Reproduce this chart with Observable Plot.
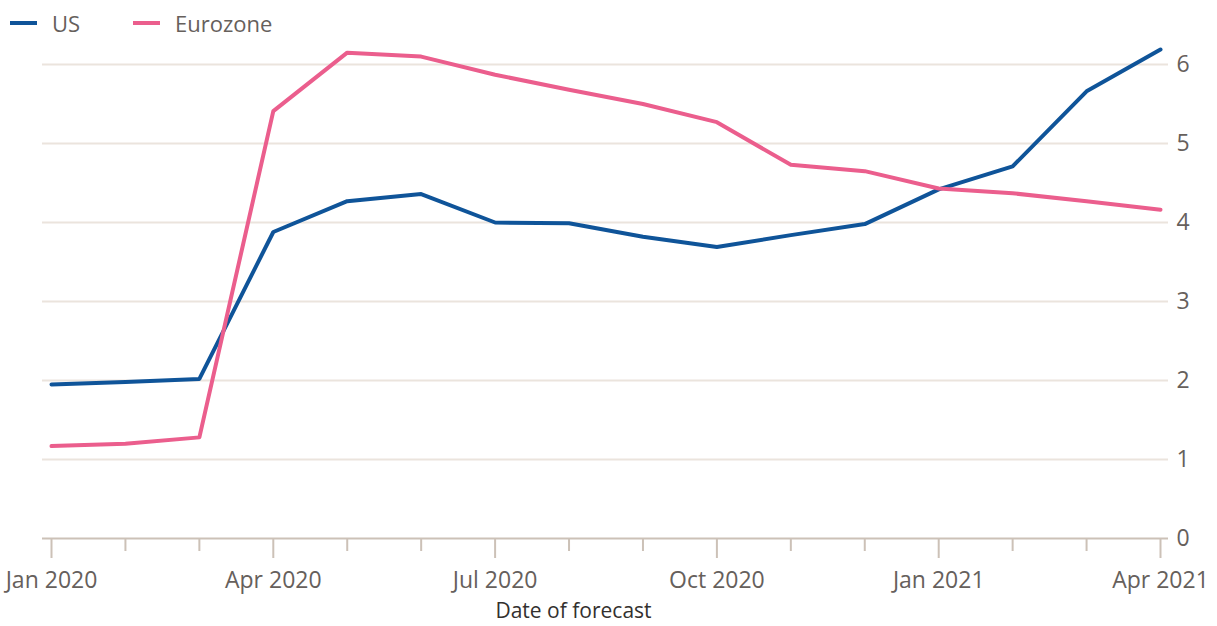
<!DOCTYPE html>
<html><head><meta charset="utf-8">
<script src="https://cdn.jsdelivr.net/npm/d3@7"></script>
<script src="https://cdn.jsdelivr.net/npm/@observablehq/plot@0.6"></script>
<style>
body{margin:0;background:#fff;font-family:"Open Sans",sans-serif;color:#66605c}
#legend{position:relative;height:34px;font-size:22px}
.item{position:absolute;top:0;height:46px;display:flex;align-items:center}
.sw{display:inline-block;width:27px;height:4px;margin-right:15px}
#chart svg{display:block}
</style></head><body>
<div id="legend"></div>
<div id="chart"></div>
<script>
const months = ["Jan 2020","Feb 2020","Mar 2020","Apr 2020","May 2020","Jun 2020","Jul 2020","Aug 2020","Sep 2020","Oct 2020","Nov 2020","Dec 2020","Jan 2021","Feb 2021","Mar 2021","Apr 2021"];
const us = [1.95,1.98,2.02,3.88,4.27,4.36,4.00,3.99,3.82,3.69,3.84,3.98,4.42,4.71,5.66,6.19];
const eurozone = [1.17,1.20,1.28,5.41,6.15,6.10,5.87,5.68,5.50,5.27,4.73,4.65,4.43,4.37,4.27,4.16];
const seriesNames = ["US","Eurozone"];
const seriesColors = ["#0f5499","#eb5e8d"];
const yTicks = [0,1,2,3,4,5,6];
const gridValues = [1,2,3,4,5,6];
const axisTitle = "Date of forecast";

const data = months.flatMap((m,i)=>[
  {i, month:m, series:"US", value:us[i]},
  {i, month:m, series:"Eurozone", value:eurozone[i]}
]);
const idx = months.map((m,i)=>i);
const major = idx.filter(i=>i%3===0);
const minor = idx.filter(i=>i%3!==0);

// legend
const leg = document.getElementById("legend");
const legendX = [10,133];
seriesNames.forEach((s,k)=>{
  const d = document.createElement("div");
  d.className="item"; d.style.left=legendX[k]+"px";
  d.innerHTML=`<span class="sw" style="background:${seriesColors[k]}"></span><span>${s}</span>`;
  leg.appendChild(d);
});

const chart = Plot.plot({
  width:1217, height:592,
  marginLeft:42, marginRight:49, marginTop:30, marginBottom:88,
  style:{fontFamily:'"Open Sans",sans-serif', fontSize:"22px", color:"#66605c", background:"transparent"},
  x:{type:"linear", domain:[0,15], insetLeft:9, insetRight:8},
  y:{domain:[0,6]},
  color:{domain:seriesNames, range:seriesColors},
  marks:[
    Plot.ruleY(gridValues,{stroke:"#ebe4dd", strokeWidth:2}),
    Plot.axisX(minor,{tickSize:13, stroke:"#ccc1b7", strokeWidth:2, tickFormat:()=>"", label:null}),
    Plot.axisX(major,{tickSize:20, tickPadding:13, stroke:"#ccc1b7", strokeWidth:2, fill:"#66605c", fontSize:23, tickFormat:i=>months[i], label:null}),
    Plot.ruleY([0],{stroke:"#ccc1b7", strokeWidth:2}),
    Plot.axisY(yTicks,{anchor:"right", tickSize:0, tickPadding:8, fill:"#66605c", fontSize:23, tickFormat:d=>String(d), label:null}),
    Plot.lineY(data,{x:"i", y:"value", stroke:"series", strokeWidth:4, strokeLinejoin:"round"}),
    Plot.text([axisTitle],{frameAnchor:"bottom", lineAnchor:"middle", dy:73, dx:-32, fill:"#33302e", fontSize:21})
  ]
});
document.getElementById("chart").appendChild(chart);
</script>
</body></html>
